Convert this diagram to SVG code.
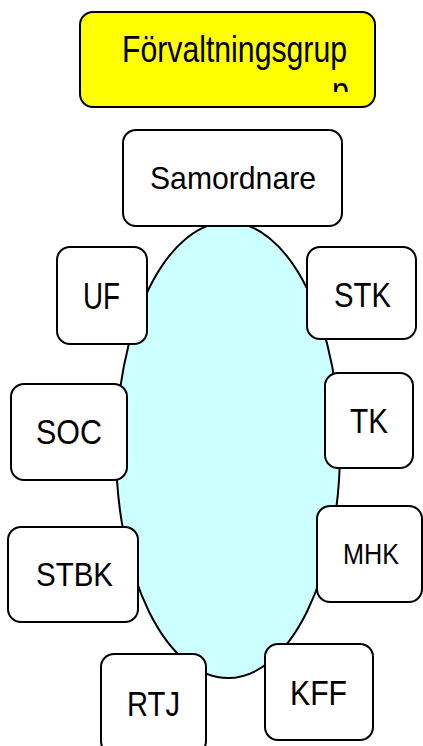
<svg xmlns="http://www.w3.org/2000/svg" width="423" height="746" viewBox="0 0 423 746">
  <defs>
    <style>
      .box { fill: #ffffff; stroke: #000000; stroke-width: 2; }
      .hdr { fill: #ffff00; stroke: #000000; stroke-width: 2; }
      .lbl { font-family: "Liberation Sans", Arial, sans-serif; fill: #000000; }
    </style>
    <clipPath id="hdrclip">
      <rect x="81" y="13" width="293" height="79"/>
    </clipPath>
  </defs>
  <rect x="0" y="0" width="423" height="746" fill="#ffffff"/>

  <g id="connectors">
    <ellipse cx="228" cy="450" rx="112" ry="228" fill="#ccffff" stroke="#000000" stroke-width="2"/>
  </g>

  <g id="forvaltningsgrupp">
    <rect class="hdr" x="80" y="12" width="295" height="95" rx="13"/>
    <g clip-path="url(#hdrclip)">
      <text class="lbl" x="122" y="62" font-size="36" textLength="225" lengthAdjust="spacingAndGlyphs">Förvaltningsgrup</text>
      <text class="lbl" x="332" y="103" font-size="36" textLength="17" lengthAdjust="spacingAndGlyphs">p</text>
    </g>
  </g>

  <g id="samordnare">
    <rect class="box" x="123" y="130" width="219" height="96" rx="13"/>
    <text class="lbl" x="150" y="189" font-size="32" textLength="166" lengthAdjust="spacingAndGlyphs">Samordnare</text>
  </g>

  <g id="uf">
    <rect class="box" x="57" y="247" width="90" height="97" rx="13"/>
    <text class="lbl" x="83" y="309" font-size="36" textLength="37" lengthAdjust="spacingAndGlyphs">UF</text>
  </g>

  <g id="stk">
    <rect class="box" x="307" y="247" width="109" height="92" rx="13"/>
    <text class="lbl" x="334" y="307" font-size="35" textLength="57" lengthAdjust="spacingAndGlyphs">STK</text>
  </g>

  <g id="soc">
    <rect class="box" x="11" y="384" width="116" height="96" rx="13"/>
    <text class="lbl" x="36" y="444" font-size="35" textLength="66" lengthAdjust="spacingAndGlyphs">SOC</text>
  </g>

  <g id="tk">
    <rect class="box" x="325" y="373" width="88" height="95" rx="13"/>
    <text class="lbl" x="350" y="433" font-size="35" textLength="38" lengthAdjust="spacingAndGlyphs">TK</text>
  </g>

  <g id="stbk">
    <rect class="box" x="8" y="527" width="130" height="95" rx="13"/>
    <text class="lbl" x="36" y="586" font-size="34" textLength="77" lengthAdjust="spacingAndGlyphs">STBK</text>
  </g>

  <g id="mhk">
    <rect class="box" x="317" y="506" width="105" height="96" rx="13"/>
    <text class="lbl" x="343" y="564" font-size="29" textLength="56" lengthAdjust="spacingAndGlyphs">MHK</text>
  </g>

  <g id="rtj">
    <rect class="box" x="101" y="654" width="105" height="100" rx="13"/>
    <text class="lbl" x="127" y="716" font-size="35" textLength="53" lengthAdjust="spacingAndGlyphs">RTJ</text>
  </g>

  <g id="kff">
    <rect class="box" x="265" y="644" width="108" height="96" rx="13"/>
    <text class="lbl" x="290" y="705" font-size="35" textLength="57" lengthAdjust="spacingAndGlyphs">KFF</text>
  </g>
</svg>
